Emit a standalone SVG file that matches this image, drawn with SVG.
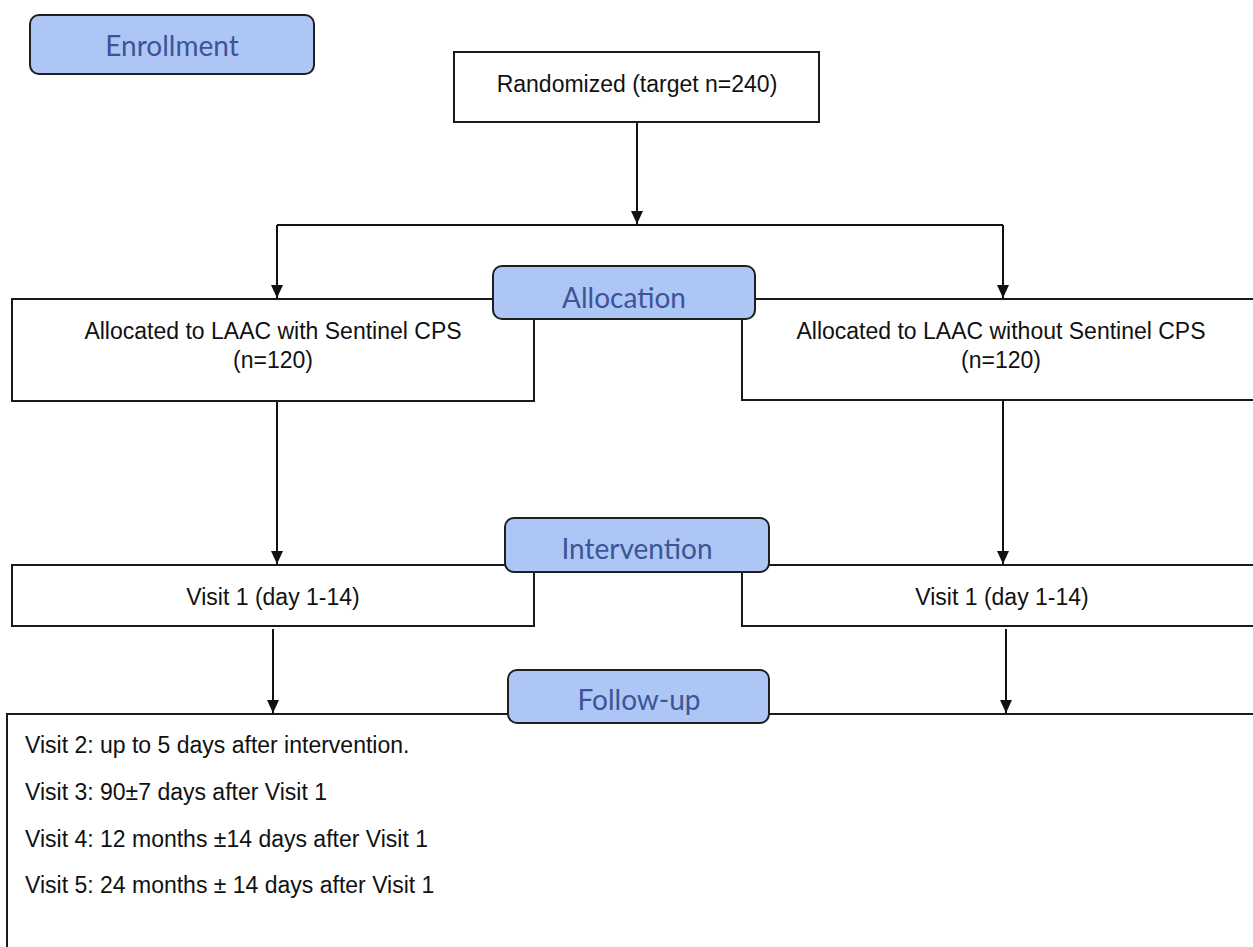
<svg xmlns="http://www.w3.org/2000/svg" width="1253" height="947" viewBox="0 0 1253 947">
<defs>
<marker id="arr" markerUnits="userSpaceOnUse" markerWidth="14" markerHeight="14" viewBox="0 0 14 14" refX="13" refY="7" orient="auto">
<path d="M0,1 L13,7 L0,13 Z" fill="#111"/>
</marker>
<style>
.box{fill:#fff;stroke:#1a1a1a;stroke-width:2}
.lab{fill:#adc6f5;stroke:#1f1f1f;stroke-width:2}
.t{font-family:"Liberation Sans",Arial,sans-serif;font-size:23px;fill:#111}
.c{text-anchor:middle}
.lt{font-family:Lato,"Open Sans",sans-serif;font-size:28px;fill:#3d5596;text-anchor:middle}
.con{fill:none;stroke:#111;stroke-width:2}
</style>
</defs>
<rect width="1253" height="947" fill="#fff"/>
<g id="connectors">
<path class="con" d="M637,122 V224" marker-end="url(#arr)"/>
<path class="con" d="M277,225 H1003"/>
<path class="con" d="M277,225 V298" marker-end="url(#arr)"/>
<path class="con" d="M1003,225 V298" marker-end="url(#arr)"/>
<path class="con" d="M277,401 V564" marker-end="url(#arr)"/>
<path class="con" d="M1003,400 V564" marker-end="url(#arr)"/>
<path class="con" d="M273,629 V713" marker-end="url(#arr)"/>
<path class="con" d="M1006,629 V713" marker-end="url(#arr)"/>
</g>
<g id="randomized">
<rect class="box" x="454" y="52" width="365" height="70"/>
<text class="t c" x="637" y="92">Randomized (target n=240)</text>
</g>
<g id="alloc-with">
<rect class="box" x="12" y="299" width="522" height="102"/>
<text class="t c" x="273" y="339">Allocated to LAAC with Sentinel CPS</text>
<text class="t c" x="273" y="368">(n=120)</text>
</g>
<g id="alloc-without">
<rect class="box" x="742" y="299" width="540" height="101"/>
<text class="t c" x="1001" y="339">Allocated to LAAC without Sentinel CPS</text>
<text class="t c" x="1001" y="368">(n=120)</text>
</g>
<g id="visit1-with">
<rect class="box" x="12" y="565" width="522" height="61"/>
<text class="t c" x="273" y="605">Visit 1 (day 1-14)</text>
</g>
<g id="visit1-without">
<rect class="box" x="742" y="565" width="540" height="61"/>
<text class="t c" x="1002" y="605">Visit 1 (day 1-14)</text>
</g>
<g id="followup-box">
<rect class="box" x="7" y="714" width="1280" height="260"/>
<text class="t" x="25" y="753">Visit 2: up to 5 days after intervention.</text>
<text class="t" x="25" y="800">Visit 3: 90±7 days after Visit 1</text>
<text class="t" x="25" y="847">Visit 4: 12 months ±14 days after Visit 1</text>
<text class="t" x="25" y="893">Visit 5: 24 months ± 14 days after Visit 1</text>
</g>
<g id="enrollment">
<rect class="lab" x="30" y="15" width="284" height="59" rx="9"/>
<text class="lt" x="172" y="56">Enrollment</text>
</g>
<g id="allocation">
<rect class="lab" x="493" y="266" width="262" height="53" rx="9"/>
<text class="lt" x="624" y="308">Allocation</text>
</g>
<g id="intervention">
<rect class="lab" x="505" y="518" width="264" height="54" rx="9"/>
<text class="lt" x="637" y="559">Intervention</text>
</g>
<g id="followup">
<rect class="lab" x="508" y="670" width="261" height="53" rx="9"/>
<text class="lt" x="639" y="710">Follow-up</text>
</g>
</svg>
